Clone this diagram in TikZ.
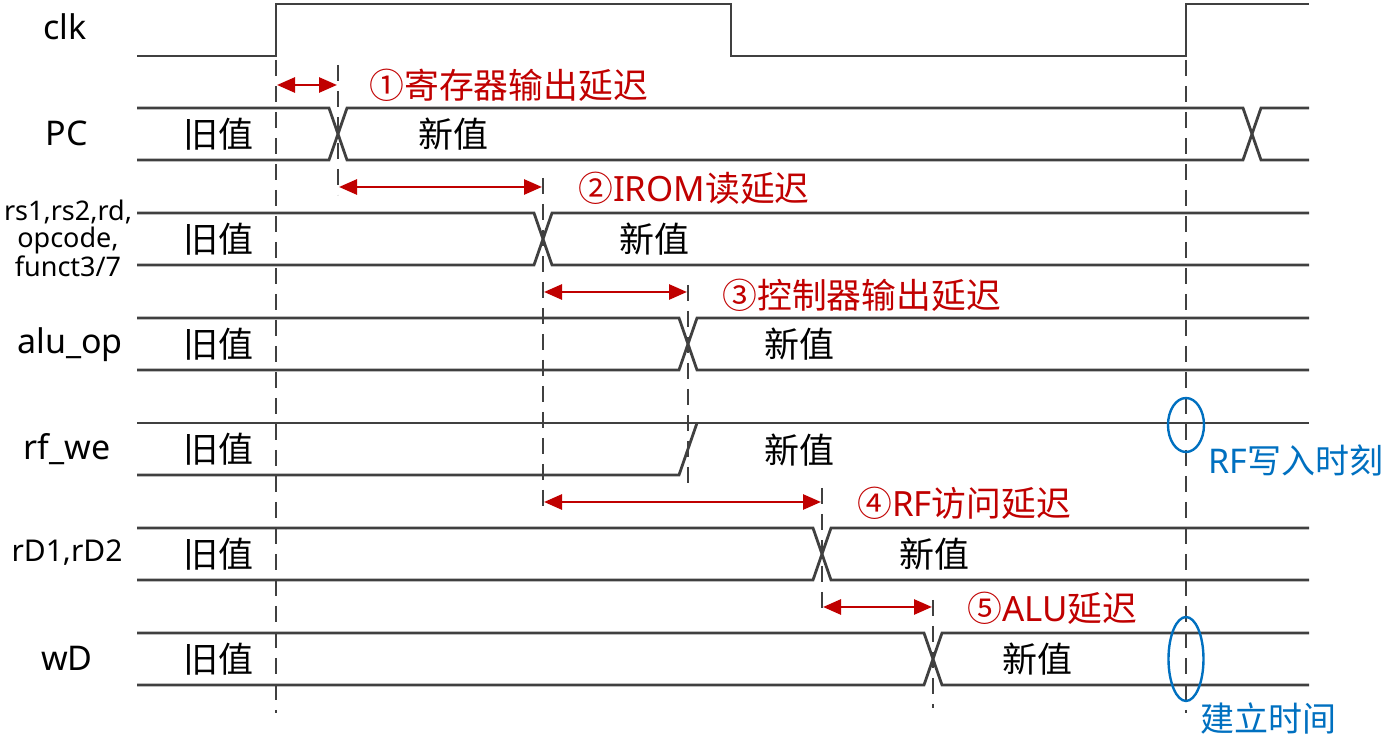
\documentclass[tikz,border=0pt]{standalone}
\usepackage{fontspec}
\setmainfont{Noto Sans}
\newfontfamily\zhfont{Noto Sans CJK SC}
\usepackage{xcolor}
\usetikzlibrary{shapes.geometric,arrows.meta,positioning,calc}
\definecolor{wavegray}{RGB}{64,64,64}
\definecolor{delayred}{RGB}{192,0,0}
\definecolor{markblue}{RGB}{0,112,192}
\tikzset{
    wave/.style={draw=wavegray, line width=1.4pt, line join=miter},
    guide/.style={draw=wavegray, line width=1.2pt, dash pattern=on 8pt off 5pt},
    delay/.style={draw=delayred, line width=1.4pt, {Triangle[length=9pt,width=7.5pt]}-{Triangle[length=9pt,width=7.5pt]}},
    sample/.style={ellipse, draw=markblue, line width=1.2pt, inner sep=0pt},
    signame/.style={font=\fontsize{17}{19}\selectfont},
    val/.style={font=\zhfont\fontsize{17.5}{20}\selectfont},
    note/.style={anchor=west, inner sep=0pt, text=delayred, font=\fontsize{17.4}{20}\selectfont},
    marknote/.style={anchor=west, inner sep=0pt, text=markblue, font=\fontsize{17}{19}\selectfont}
}

\begin{document}
\begin{tikzpicture}[x=0.5pt, y=-0.5pt]
    \useasboundingbox (0,0) rectangle (1389,742);

    % signal names
    \node[signame] (clk) at (65,27) {clk};
    \node[signame] (pc) at (67,133) {PC};
    \node[signame, align=center, font=\fontsize{13.5}{13.5}\selectfont] (inst) at (68,238) {rs1,rs2,rd,\\opcode,\\funct3/7};
    \node[signame] (aluop) at (70,345) {alu\_op};
    \node[signame] (rfwe) at (67,449) {rf\_we};
    \node[signame, font=\fontsize{15}{17}\selectfont] (rd) at (67,553) {rD1,rD2};
    \node[signame] (wd) at (67,658) {wD};

    % waveforms
    \draw[wave] (137,56) -- (276,56) -- (276,4) -- (731,4) -- (731,56) -- (1186,56) -- (1186,4) -- (1309,4);
    \draw[wave] (137,108) -- (329,108) -- (347,160) -- (1243,160) -- (1261,108) -- (1309,108);
    \draw[wave] (137,160) -- (329,160) -- (347,108) -- (1243,108) -- (1261,160) -- (1309,160);
    \foreach \y/\t in {213/543, 318/688, 528/822, 633/933} {
        \draw[wave] (137,\y) -- ({\t-9},\y) -- ({\t+9},{\y+52}) -- (1309,{\y+52});
        \draw[wave] (137,{\y+52}) -- ({\t-9},{\y+52}) -- ({\t+9},\y) -- (1309,\y);
    }
    \draw[wave] (137,423) -- (1309,423);
    \draw[wave] (137,475) -- (679,475) -- (697,423);

    % values
    \foreach \y in {134,239,344,449,554,659}
        \node[val] at (218,\y) {旧值};
    \node[val] (pcnew) at (453,134) {新值};
    \node[val] (instnew) at (654,239) {新值};
    \node[val] (alunew) at (799,344) {新值};
    \node[val] (rfnew) at (799,450) {新值};
    \node[val] (rdnew) at (934,554) {新值};
    \node[val] (wdnew) at (1037,659) {新值};

    % guide lines
    \draw[guide] (276,60) -- (276,713);
    \draw[guide] (338,65) -- (338,195);
    \draw[guide] (543,178) -- (543,512);
    \draw[guide] (688,285) -- (688,483);
    \draw[guide] (822,488) -- (822,613);
    \draw[guide] (933,600) -- (933,708);
    \draw[guide] (1186,60) -- (1186,713);

    % delays
    \coordinate (d1a) at (277,85);  \coordinate (d1b) at (337,85);
    \coordinate (d2a) at (339,187); \coordinate (d2b) at (542,187);
    \coordinate (d3a) at (544,292); \coordinate (d3b) at (687,292);
    \coordinate (d4a) at (544,502); \coordinate (d4b) at (821,502);
    \coordinate (d5a) at (823,607); \coordinate (d5b) at (932,607);
    \draw[delay] (d1a) -- (d1b);
    \draw[delay] (d2a) -- (d2b);
    \draw[delay] (d3a) -- (d3b);
    \draw[delay] (d4a) -- (d4b);
    \draw[delay] (d5a) -- (d5b);
    \node[note] (n1) at (369,85) {\zhfont ①寄存器输出延迟};
    \node[note] (n2) at (578,188) {{\zhfont ②}IROM{\zhfont 读延迟}};
    \node[note] (n3) at (722,295) {\zhfont ③控制器输出延迟};
    \node[note] (n4) at (857,503) {{\zhfont ④}RF{\zhfont 访问延迟}};
    \node[note] (n5) at (967,608) {{\zhfont ⑤}ALU{\zhfont 延迟}};

    % register file write / setup time
    \node[sample, minimum width=18pt, minimum height=27pt] (rfw) at (1186,425) {};
    \node[sample, minimum width=17.5pt, minimum height=42pt] (setup) at (1186,659) {};
    \node[marknote] (rfwl) at (1208,460) {RF{\zhfont 写入时刻}};
    \node[marknote] (setupl) at (1200,718) {\zhfont 建立时间};
\end{tikzpicture}
\end{document}
